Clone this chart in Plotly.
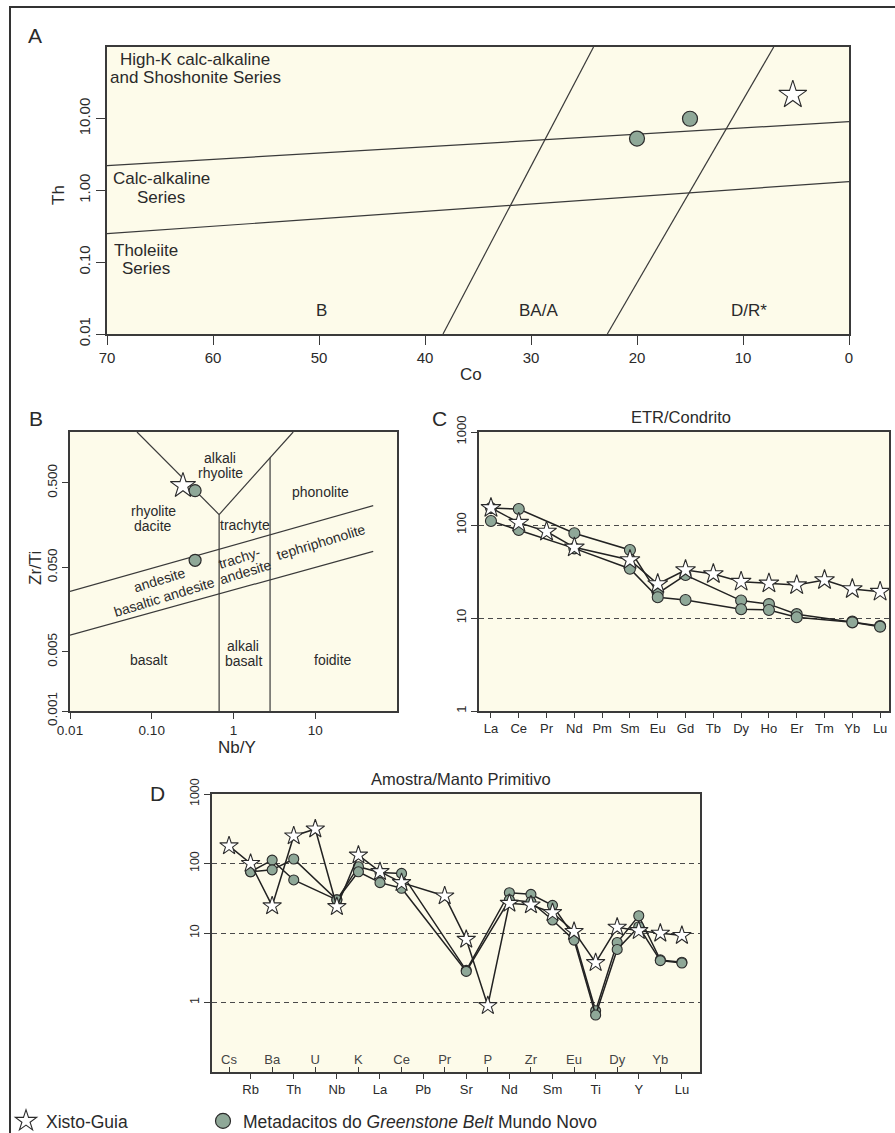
import math
import plotly.graph_objects as go

W, H = 895, 1133
FONT = "Liberation Sans, Arial, sans-serif"
TXT = "#2a2a2a"
FRAME = "#3a3a3a"
BG = "#fdfbea"
CIRC = "#8fa898"
EDGE = "#2b2b2b"

# ---------------- Panel A : Th vs Co ----------------
a_circle_co = [20.0, 15.0]
a_circle_th = [5.3, 10.0]
a_star_co = [5.3]
a_star_th = [21.5]
a_upper_co = [70, 0]
a_upper_th = [2.22, 9.1]
a_lower_co = [70, 0]
a_lower_th = [0.25, 1.33]
a_diag1_co = [38.3, 24.1]
a_diag1_th = [0.01, 100]
a_diag2_co = [22.8, 7.1]
a_diag2_th = [0.01, 100]
a_xticks = [70, 60, 50, 40, 30, 20, 10, 0]
a_yticks = [0.01, 0.1, 1, 10]
a_yticklabels = ["0.01", "0.10", "1.00", "10.00"]

# ---------------- Panel B : Zr/Ti vs Nb/Y ----------------
b_star_nby = [0.241]
b_star_zrti = [0.463]
b_circle_nby = [0.339, 0.339]
b_circle_zrti = [0.405, 0.0607]
b_vleft_x = [0.066, 0.667]
b_vleft_y = [2.0, 0.211]
b_vright_x = [0.667, 5.37]
b_vright_y = [0.211, 2.0]
b_vert1_x = [0.667, 0.667]
b_vert1_y = [0.211, 0.001]
b_vert2_x = [2.8, 2.8]
b_vert2_y = [0.99, 0.001]
b_up_x = [0.01, 51.2]
b_up_y = [0.026, 0.269]
b_lo_x = [0.01, 51.2]
b_lo_y = [0.0079, 0.0775]
b_xticks = [0.01, 0.1, 1, 10]
b_xticklabels = ["0.01", "0.10", "1", "10"]
b_yticks = [0.001, 0.005, 0.05, 0.5]
b_yticklabels = ["0.001", "0.005", "0.050", "0.500"]

# ---------------- Panel C : REE / chondrite ----------------
ree = ["La", "Ce", "Pr", "Nd", "Pm", "Sm", "Eu", "Gd", "Tb", "Dy", "Ho", "Er", "Tm", "Yb", "Lu"]
c_star = [153, 106, 85, 57.5, None, 42, 23.2, 32.8, 29.7, 24.6, 23.6, 22.6, 25.6, 20.5, 19.2]
c_circ1 = [152, 148.6, None, 81.4, None, 53.9, 18.4, 29.0, None, 15.4, 14.1, 11.0, None, 9.14, 8.2]
c_circ2 = [110.4, 88.4, None, 56.1, None, 33.9, 16.7, 15.6, None, 12.4, 12.2, 10.2, None, 8.98, 8.07]
c_yticks = [1, 10, 100, 1000]

# ---------------- Panel D : sample / primitive mantle ----------------
pm = ["Cs", "Rb", "Ba", "Th", "U", "Nb", "K", "La", "Ce", "Pb", "Pr", "Sr", "P", "Nd", "Zr",
      "Sm", "Eu", "Ti", "Dy", "Y", "Yb", "Lu"]
d_star = [179, 100, 24.5, 249, 313, 23.9, 132, 76.3, 53, None, 34.1, 8.1, 0.9, 26.7, 25.3,
          19.6, 10.5, 3.74, 12.1, 10.8, 9.9, 9.2]
d_circ1 = [None, 76, 112, 58, None, 30, 90, 74, 72, None, None, 2.9, None, 38, 36,
           25, 8.9, 0.76, 7.3, 17.7, 4.1, 3.8]
d_circ2 = [None, 76, 81, 116, None, 30, 76, 53, 44, None, None, 2.8, None, 30, 28,
           15.4, 7.9, 0.66, 5.8, 12.3, 4.0, 3.7]
d_yticks = [0.1, 1, 10, 100, 1000]

STAR_NAME = "Xisto-Guia"
CIRC_NAME = "Metadacitos do <i>Greenstone Belt</i> Mundo Novo"


def px(x):
    return x / W


def py(y):
    return 1 - y / H


fig = go.Figure()


def bline(xs, ys, xa, ya):
    fig.add_trace(go.Scatter(x=xs, y=ys, mode="lines", line=dict(color=FRAME, width=1.2),
                             hoverinfo="skip", showlegend=False, xaxis=xa, yaxis=ya))


# Panel A
for xs, ys in [(a_upper_co, a_upper_th), (a_lower_co, a_lower_th),
               (a_diag1_co, a_diag1_th), (a_diag2_co, a_diag2_th)]:
    bline(xs, ys, "x", "y")
fig.add_trace(go.Scatter(x=a_circle_co, y=a_circle_th, mode="markers", name=CIRC_NAME,
                         marker=dict(symbol="circle", size=15, color=CIRC, line=dict(color=EDGE, width=1.2)),
                         xaxis="x", yaxis="y", legend="legend2", showlegend=True))
fig.add_trace(go.Scatter(x=a_star_co, y=a_star_th, mode="markers", name=STAR_NAME,
                         marker=dict(symbol="star", size=21, color="white", line=dict(color=EDGE, width=1.1)),
                         xaxis="x", yaxis="y", legend="legend", showlegend=True))

# Panel B
for xs, ys in [(b_vleft_x, b_vleft_y), (b_vright_x, b_vright_y), (b_vert1_x, b_vert1_y),
               (b_vert2_x, b_vert2_y), (b_up_x, b_up_y), (b_lo_x, b_lo_y)]:
    bline(xs, ys, "x2", "y2")
fig.add_trace(go.Scatter(x=b_star_nby, y=b_star_zrti, mode="markers", showlegend=False,
                         marker=dict(symbol="star", size=19, color="white", line=dict(color=EDGE, width=1.1)),
                         xaxis="x2", yaxis="y2"))
fig.add_trace(go.Scatter(x=b_circle_nby, y=b_circle_zrti, mode="markers", showlegend=False,
                         marker=dict(symbol="circle", size=12, color=CIRC, line=dict(color=EDGE, width=1.2)),
                         xaxis="x2", yaxis="y2"))

# Panel C
for vals in [c_circ1, c_circ2]:
    fig.add_trace(go.Scatter(x=ree, y=vals, mode="lines+markers", connectgaps=True, showlegend=False,
                             line=dict(color="#222", width=1.5),
                             marker=dict(symbol="circle", size=11, color=CIRC, line=dict(color=EDGE, width=1.1)),
                             xaxis="x3", yaxis="y3"))
fig.add_trace(go.Scatter(x=ree, y=c_star, mode="lines+markers", connectgaps=True, showlegend=False,
                         line=dict(color="#222", width=1.5),
                         marker=dict(symbol="star", size=15, color="white", line=dict(color=EDGE, width=1.1)),
                         xaxis="x3", yaxis="y3"))

# Panel D
d_idx = list(range(len(pm)))
for vals in [d_circ1, d_circ2]:
    fig.add_trace(go.Scatter(x=d_idx, y=vals, mode="lines+markers", connectgaps=True, showlegend=False,
                             line=dict(color="#222", width=1.5),
                             marker=dict(symbol="circle", size=10, color=CIRC, line=dict(color=EDGE, width=1.1)),
                             xaxis="x4", yaxis="y4"))
fig.add_trace(go.Scatter(x=d_idx, y=d_star, mode="lines+markers", connectgaps=True, showlegend=False,
                         line=dict(color="#222", width=1.5),
                         marker=dict(symbol="star", size=14, color="white", line=dict(color=EDGE, width=1.1)),
                         xaxis="x4", yaxis="y4"))
fig.add_trace(go.Scatter(x=[None], y=[None], mode="markers", showlegend=False, xaxis="x5", yaxis="y4"))

frame = dict(showline=True, mirror=True, linecolor=FRAME, linewidth=1.5, showgrid=False,
             zeroline=False, ticks="outside", tickcolor=FRAME, tickwidth=1.2, automargin=False)

layout = dict(
    width=W, height=H, margin=dict(l=0, r=0, t=0, b=0, autoexpand=False),
    paper_bgcolor="white", plot_bgcolor=BG,
    font=dict(family=FONT, color=TXT),
    # A
    xaxis=dict(frame, domain=[px(107), px(849)], anchor="y", range=[70, 0], tickvals=a_xticks,
               ticklen=9, tickfont=dict(size=15)),
    yaxis=dict(frame, domain=[py(334), py(47)], anchor="x", type="log", range=[-2, 2],
               tickvals=a_yticks, ticktext=a_yticklabels, tickangle=-90, ticklen=9, tickfont=dict(size=15)),
    # B
    xaxis2=dict(frame, domain=[px(70), px(397)], anchor="y2", type="log", range=[-2, 2],
                tickvals=b_xticks, ticktext=b_xticklabels, ticklen=6, tickfont=dict(size=13.5)),
    yaxis2=dict(frame, domain=[py(711), py(432)], anchor="x2", type="log", range=[-3, math.log10(2)],
                tickvals=b_yticks, ticktext=b_yticklabels, tickangle=-90, ticklen=6, tickfont=dict(size=13.5)),
    # C
    xaxis3=dict(frame, domain=[px(479), px(889)], anchor="y3", type="category", categoryorder="array",
                categoryarray=ree, range=[-0.43, 14.32], ticklen=5, tickfont=dict(size=13)),
    yaxis3=dict(frame, domain=[py(711), py(432)], anchor="x3", type="log", range=[0, 3],
                tickvals=c_yticks, ticktext=[str(v) for v in c_yticks], tickangle=-90, ticklen=6,
                tickfont=dict(size=13), showgrid=True, gridcolor="#4a4a4a", gridwidth=1, griddash="5px,4px"),
    # D
    xaxis4=dict(frame, domain=[px(212), px(700)], anchor="y4", range=[-0.79, 21.84],
                tickvals=d_idx[1::2], ticktext=pm[1::2], ticklen=5, tickfont=dict(size=13)),
    xaxis5=dict(overlaying="x4", anchor="y4", range=[-0.79, 21.84], showline=False, showgrid=False,
                zeroline=False, tickvals=d_idx[0::2], ticktext=pm[0::2], ticks="inside", ticklen=5,
                tickcolor=FRAME, tickwidth=1.2, ticklabelposition="inside", tickfont=dict(size=13),
                side="bottom", automargin=False),
    yaxis4=dict(frame, domain=[py(1072), py(794)], anchor="x4", type="log", range=[-1, 3],
                tickvals=d_yticks, ticktext=[str(v) for v in d_yticks], tickangle=-90, ticklen=6,
                tickfont=dict(size=12.5), showgrid=True, gridcolor="#4a4a4a", gridwidth=1, griddash="5px,4px"),
    legend=dict(x=px(6), y=py(1121), xanchor="left", yanchor="middle", font=dict(size=17.5, color=TXT),
                bgcolor="rgba(0,0,0,0)"),
    legend2=dict(x=px(203), y=py(1121), xanchor="left", yanchor="middle", font=dict(size=17.5, color=TXT),
                 bgcolor="rgba(0,0,0,0)"),
    shapes=[dict(type="rect", xref="paper", yref="paper", x0=px(10), x1=1.02, y0=-0.02, y1=py(7),
                 line=dict(color="#333", width=2), layer="below")],
)
fig.update_layout(**layout)


def note(text, x, y, size, angle=0, color=TXT):
    fig.add_annotation(text=text, x=px(x), y=py(y), xref="paper", yref="paper", showarrow=False,
                       xanchor="center", yanchor="middle", textangle=angle,
                       font=dict(size=size, color=color, family=FONT))


# panel letters
for t, x, y in [("A", 35, 36), ("B", 36, 419), ("C", 439, 418), ("D", 157, 793)]:
    note(t, x, y, 21)

# axis titles and panel titles
note("Th", 58, 195, 17, -90)
note("Co", 471, 375, 17)
note("Nb/Y", 237, 747, 17)
note("Zr/Ti", 35, 568, 17, -90)
note("ETR/Condrito", 681, 417, 16.5)
note("Amostra/Manto Primitivo", 461, 779, 16.5)

# Panel A field labels
for t, x, y in [("High-K calc-alkaline", 195, 59), ("and Shoshonite Series", 195, 78),
                ("Calc-alkaline", 161, 178), ("Series", 161, 197),
                ("Tholeiite", 146, 250), ("Series", 146, 269),
                ("B", 321, 311), ("BA/A", 538, 311), ("D/R*", 749, 311)]:
    note(t, x, y, 17)

# Panel B field labels
for t, x, y in [("alkali", 220, 458), ("rhyolite", 220, 473), ("rhyolite", 153, 511),
                ("dacite", 153, 526), ("phonolite", 320, 492), ("trachyte", 245, 525),
                ("basalt", 148, 660), ("alkali", 243, 646), ("basalt", 243, 661), ("foidite", 333, 660)]:
    note(t, x, y, 14)
for t, x, y in [("andesite", 159, 580), ("basaltic andesite", 164, 597), ("trachy-", 239, 558),
                ("andesite", 245, 572), ("tephriphonolite", 321, 542)]:
    note(t, x, y, 14, -17)

fig.write_html("out.html")
